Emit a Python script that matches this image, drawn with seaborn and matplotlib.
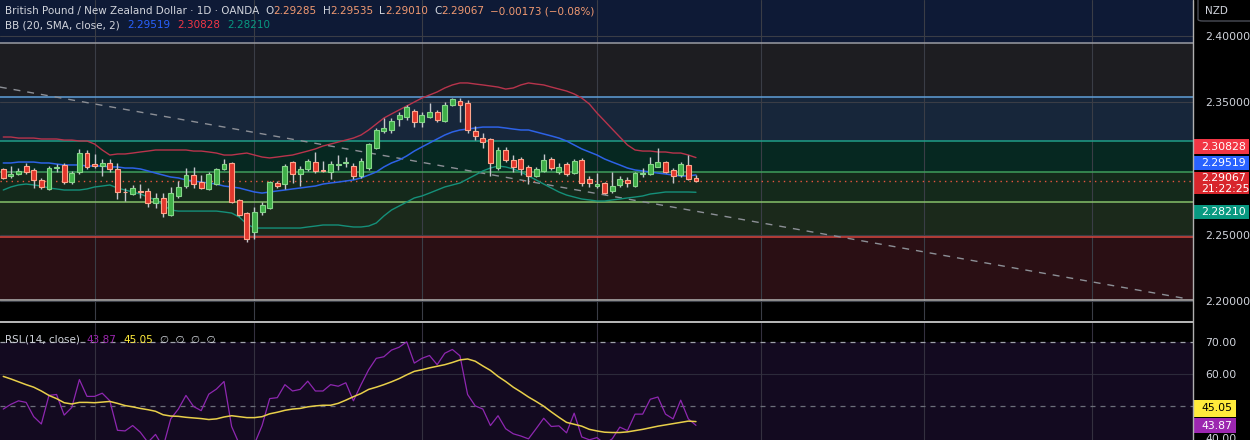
import matplotlib
matplotlib.use("Agg")
import numpy as np
import pandas as pd
import matplotlib.pyplot as plt
from matplotlib.patches import Rectangle, FancyBboxPatch
import seaborn as sns

W, H = 1250, 440

# GBP/NZD daily candles
open_ = [2.2997, 2.2944, 2.2959, 2.3019, 2.2989, 2.2914, 2.2846, 2.3004, 2.3027, 2.2898,
         2.2974, 2.3117, 2.3034, 2.3019, 2.3042, 2.2997, 2.2823, 2.2808, 2.2831, 2.2831,
         2.2740, 2.2778, 2.2649, 2.2793, 2.2868, 2.2951, 2.2898, 2.2846, 2.2883, 2.2997,
         2.3042, 2.2763, 2.2664, 2.2521, 2.2672, 2.2702, 2.2891, 2.2883, 2.3049, 2.2959,
         2.2997, 2.3049, 2.2989, 2.2974, 2.3027, 2.3042, 2.3019, 2.2944, 2.3004, 2.3155,
         2.3283, 2.3291, 2.3374, 2.3389, 2.3434, 2.3351, 2.3389, 2.3427, 2.3359, 2.3480,
         2.3510, 2.3495, 2.3283, 2.3230, 2.3223, 2.3004, 2.3140, 2.3064, 2.3072, 2.3012,
         2.2944, 2.2982, 2.3072, 2.2974, 2.3034, 2.2966, 2.3064, 2.2921, 2.2868, 2.2891,
         2.2831, 2.2876, 2.2914, 2.2868, 2.2959, 2.2959, 2.3012, 2.3049, 2.2989, 2.2951,
         2.3027, 2.29285]
high = [2.3004, 2.3019, 2.3004, 2.3042, 2.3004, 2.2929, 2.3019, 2.3034, 2.3042, 2.2982,
        2.3148, 2.3140, 2.3110, 2.3072, 2.3072, 2.3042, 2.2853, 2.2876, 2.2883, 2.2853,
        2.2815, 2.2815, 2.2861, 2.2906, 2.3004, 2.3012, 2.2951, 2.2974, 2.3004, 2.3072,
        2.3049, 2.2770, 2.2672, 2.2710, 2.2747, 2.2906, 2.2906, 2.3034, 2.3057, 2.3019,
        2.3072, 2.3125, 2.3057, 2.3057, 2.3102, 2.3087, 2.3042, 2.3080, 2.3193, 2.3306,
        2.3381, 2.3381, 2.3427, 2.3480, 2.3449, 2.3427, 2.3495, 2.3442, 2.3502, 2.3532,
        2.3532, 2.3517, 2.3321, 2.3268, 2.3230, 2.3163, 2.3163, 2.3102, 2.3087, 2.3027,
        2.3012, 2.3110, 2.3087, 2.3042, 2.3049, 2.3072, 2.3080, 2.2944, 2.2966, 2.2898,
        2.2974, 2.2944, 2.2936, 2.2974, 2.3004, 2.3087, 2.3155, 2.3057, 2.3004, 2.3049,
        2.3102, 2.29535]
low = [2.2921, 2.2929, 2.2951, 2.2959, 2.2853, 2.2846, 2.2838, 2.2974, 2.2883, 2.2883,
       2.2959, 2.2997, 2.3004, 2.2944, 2.2974, 2.2770, 2.2755, 2.2800, 2.2778, 2.2710,
       2.2702, 2.2634, 2.2642, 2.2778, 2.2853, 2.2853, 2.2846, 2.2838, 2.2876, 2.2989,
       2.2740, 2.2642, 2.2446, 2.2468, 2.2649, 2.2695, 2.2853, 2.2846, 2.2891, 2.2868,
       2.2982, 2.2966, 2.2974, 2.2921, 2.2989, 2.3012, 2.2921, 2.2929, 2.2989, 2.3148,
       2.3268, 2.3268, 2.3321, 2.3366, 2.3313, 2.3313, 2.3381, 2.3351, 2.3351, 2.3472,
       2.3351, 2.3268, 2.3215, 2.3155, 2.2944, 2.2989, 2.3049, 2.2974, 2.2951, 2.2883,
       2.2936, 2.2974, 2.2989, 2.2959, 2.2944, 2.2959, 2.2868, 2.2861, 2.2853, 2.2808,
       2.2815, 2.2861, 2.2861, 2.2861, 2.2936, 2.2951, 2.3008, 2.2966, 2.2891, 2.2936,
       2.2914, 2.29010]
close = [2.2929, 2.2959, 2.2982, 2.2974, 2.2914, 2.2861, 2.3004, 2.3012, 2.2898, 2.2966,
         2.3117, 2.3012, 2.3019, 2.3042, 2.2997, 2.2823, 2.2820, 2.2853, 2.2826, 2.2740,
         2.2778, 2.2664, 2.2815, 2.2861, 2.2951, 2.2883, 2.2853, 2.2959, 2.2997, 2.3034,
         2.2747, 2.2649, 2.2468, 2.2672, 2.2725, 2.2898, 2.2868, 2.3019, 2.2959, 2.2997,
         2.3057, 2.2982, 2.2985, 2.3034, 2.3031, 2.3046, 2.2944, 2.3057, 2.3185, 2.3291,
         2.3306, 2.3359, 2.3404, 2.3465, 2.3351, 2.3404, 2.3427, 2.3366, 2.3480, 2.3525,
         2.3480, 2.3291, 2.3246, 2.3200, 2.3042, 2.3140, 2.3064, 2.3012, 2.2997, 2.2944,
         2.2997, 2.3064, 2.3004, 2.3012, 2.2959, 2.3057, 2.2891, 2.2891, 2.2883, 2.2815,
         2.2868, 2.2921, 2.2891, 2.2966, 2.2963, 2.3034, 2.3049, 2.2974, 2.2944, 2.3034,
         2.29240, 2.29067]

# Bollinger Bands (20, SMA, close, 2)
bb_upper = [2.3238, 2.3238, 2.3230, 2.3230, 2.3230, 2.3223, 2.3223, 2.3223, 2.3215, 2.3215,
            2.3208, 2.3208, 2.3185, 2.3140, 2.3102, 2.3110, 2.3110, 2.3117, 2.3125, 2.3132,
            2.3140, 2.3140, 2.3140, 2.3140, 2.3140, 2.3132, 2.3132, 2.3125, 2.3117, 2.3102,
            2.3102, 2.3110, 2.3117, 2.3102, 2.3087, 2.3080, 2.3087, 2.3095, 2.3102, 2.3117,
            2.3132, 2.3148, 2.3170, 2.3185, 2.3200, 2.3215, 2.3230, 2.3253, 2.3291, 2.3336,
            2.3381, 2.3412, 2.3442, 2.3472, 2.3502, 2.3532, 2.3555, 2.3578, 2.3608, 2.3631,
            2.3646, 2.3646, 2.3638, 2.3631, 2.3623, 2.3615, 2.3600, 2.3608, 2.3631, 2.3646,
            2.3638, 2.3631, 2.3615, 2.3600, 2.3585, 2.3563, 2.3532, 2.3487, 2.3419, 2.3359,
            2.3298, 2.3238, 2.3178, 2.3140, 2.3132, 2.3132, 2.3125, 2.3125, 2.3117, 2.3117,
            2.3102, 2.30828]
bb_mid = [2.3042, 2.3042, 2.3049, 2.3049, 2.3049, 2.3042, 2.3042, 2.3034, 2.3027, 2.3027,
          2.3027, 2.3019, 2.3019, 2.3019, 2.3012, 2.3012, 2.3004, 2.3004, 2.2997, 2.2982,
          2.2966, 2.2951, 2.2936, 2.2929, 2.2914, 2.2906, 2.2898, 2.2891, 2.2883, 2.2868,
          2.2861, 2.2853, 2.2838, 2.2823, 2.2815, 2.2823, 2.2831, 2.2838, 2.2846, 2.2853,
          2.2861, 2.2868, 2.2883, 2.2891, 2.2898, 2.2906, 2.2914, 2.2929, 2.2951, 2.2974,
          2.3012, 2.3042, 2.3064, 2.3095, 2.3132, 2.3163, 2.3193, 2.3223, 2.3253, 2.3276,
          2.3291, 2.3298, 2.3306, 2.3313, 2.3313, 2.3313, 2.3306, 2.3298, 2.3291, 2.3291,
          2.3276, 2.3261, 2.3246, 2.3230, 2.3208, 2.3178, 2.3148, 2.3125, 2.3102, 2.3072,
          2.3049, 2.3027, 2.3004, 2.2989, 2.2982, 2.2974, 2.2966, 2.2959, 2.2951, 2.2944,
          2.2944, 2.29519]
bb_lower = [2.2838, 2.2861, 2.2876, 2.2883, 2.2876, 2.2868, 2.2853, 2.2846, 2.2838, 2.2838,
            2.2838, 2.2846, 2.2861, 2.2868, 2.2876, 2.2853, 2.2838, 2.2823, 2.2808, 2.2785,
            2.2763, 2.2725, 2.2687, 2.2679, 2.2679, 2.2679, 2.2679, 2.2679, 2.2679, 2.2672,
            2.2664, 2.2634, 2.2581, 2.2551, 2.2551, 2.2551, 2.2551, 2.2551, 2.2551, 2.2551,
            2.2559, 2.2566, 2.2574, 2.2574, 2.2574, 2.2566, 2.2559, 2.2559, 2.2566, 2.2589,
            2.2642, 2.2687, 2.2717, 2.2747, 2.2778, 2.2793, 2.2815, 2.2838, 2.2861, 2.2876,
            2.2891, 2.2921, 2.2951, 2.2982, 2.3004, 2.3019, 2.3012, 2.2997, 2.2974, 2.2944,
            2.2914, 2.2883, 2.2853, 2.2823, 2.2800, 2.2785, 2.2770, 2.2763, 2.2755, 2.2755,
            2.2763, 2.2770, 2.2778, 2.2785, 2.2793, 2.2808, 2.2815, 2.2823, 2.2823, 2.2823,
            2.2823, 2.28210]

# RSI (14, close) and its moving average
rsi = [49.0, 50.5, 51.6, 51.1, 46.6, 44.3, 53.3, 53.6, 47.1, 49.5,
       58.3, 53.0, 53.0, 54.0, 51.6, 42.3, 42.1, 43.8, 41.7, 38.5,
       41.0, 37.0, 45.9, 49.0, 53.3, 49.8, 48.5, 53.7, 55.3, 57.7,
       43.5, 38.0, 33.0, 38.0, 43.8, 52.3, 52.6, 56.7, 54.7, 55.2,
       57.8, 54.7, 54.7, 56.7, 56.2, 57.3, 51.6, 56.7, 61.4, 65.0,
       65.5, 67.6, 68.5, 70.2, 63.5, 65.0, 65.9, 63.0, 66.6, 67.8,
       65.8, 53.6, 50.0, 49.0, 43.8, 46.9, 42.8, 41.2, 40.5, 39.6,
       42.8, 46.1, 43.5, 43.7, 41.5, 47.7, 40.2, 39.3, 40.0, 38.0,
       39.6, 43.3, 42.2, 47.4, 47.4, 52.1, 52.8, 47.4, 45.9, 51.8,
       45.9, 43.87]
rsi_ma = [59.3, 58.5, 57.6, 56.7, 55.9, 54.7, 53.3, 52.3, 51.0, 50.6,
          51.1, 51.1, 51.0, 51.2, 51.4, 50.8, 50.1, 49.7, 49.2, 48.8,
          48.3, 47.2, 46.8, 46.7, 46.4, 46.2, 46.0, 45.7, 45.9, 46.5,
          46.9, 46.6, 46.3, 46.3, 46.6, 47.5, 48.0, 48.6, 49.0, 49.2,
          49.7, 50.0, 50.2, 50.2, 50.8, 51.8, 52.9, 53.9, 55.2, 55.9,
          56.7, 57.6, 58.6, 59.8, 60.9, 61.4, 62.0, 62.5, 63.0, 63.7,
          64.5, 64.8, 64.1, 62.6, 61.2, 59.3, 57.7, 55.9, 54.4, 52.8,
          51.4, 49.9, 48.1, 46.4, 44.8, 44.2, 43.6, 42.6, 42.1, 41.7,
          41.6, 41.6, 41.8, 42.2, 42.6, 43.1, 43.6, 44.0, 44.4, 44.8,
          45.2, 45.05]

# drawn horizontal levels and the zones between them
levels = [2.3947, 2.3540, 2.3208, 2.2974, 2.2747, 2.2483, 2.2008]
level_colors = ["#9a9ca3", "#5f9fd8", "#1f9e88", "#3f9d5c", "#86c06a", "#d9453f", "#b4b4b4"]
zone_colors = ["#0e1a36", "#1d1d21", "#17263a", "#062821", "#14291b", "#1b291b", "#2a0f14", "#000000"]

# dashed trend line anchors (bar index, price)
trend_idx = [-0.45, 155.7]
trend_px = [2.3615, 2.2015]

price_ticks = [2.20, 2.25, 2.35, 2.40]
rsi_ticks = [40, 60, 70]
month_idx = [12, 33, 55, 78, 99.5, 121, 143]

df = pd.DataFrame({"open": open_, "high": high, "low": low, "close": close,
                   "upper": bb_upper, "mid": bb_mid, "lower": bb_lower,
                   "rsi": rsi, "rsi_ma": rsi_ma})
df["i"] = np.arange(len(df))
up = df["close"] >= df["open"]

sns.set_theme(style="dark")
plt.rcParams["font.family"] = ["DejaVu Sans"]
TXT = "#d1d4dc"

fig = plt.figure(figsize=(W / 100, H / 100), dpi=100, facecolor="black")


def fx(x):
    return x / W


def fy(y):
    return 1 - y / H


ax = fig.add_axes([0, fy(320), fx(1193), 320 / H])
ax_r = fig.add_axes([0, 0, fx(1193), (H - 323) / H])
y_lo, y_hi = 2.1857, 2.4272
x_lim = (-0.43, 156.3)

for a in (ax, ax_r):
    a.set_facecolor("black")
    a.grid(False)
    for s in a.spines.values():
        s.set_visible(False)
    a.set_xlim(*x_lim)
    a.set_xticks([])

# zones
edges = [y_hi] + levels + [y_lo]
for k, c in enumerate(zone_colors):
    ax.axhspan(edges[k + 1], edges[k], color=c, zorder=0, lw=0)
for t in price_ticks:
    ax.axhline(t, color="#3a3d46", lw=0.8, zorder=0.5)
for m in month_idx:
    ax.axvline(m, color="#3a3d46", lw=0.8, zorder=0.5)
for lv, c in zip(levels, level_colors):
    ax.axhline(lv, color=c, lw=1.1, zorder=1)

ax.plot(trend_idx, trend_px, color="#8c8f96", lw=1, ls=(0, (5, 5)), zorder=1.5)
ax.axhline(close[-1], color="#e8553f", lw=1, ls=(0, (1, 3)), zorder=1.5)

# bollinger bands
sns.lineplot(data=df, x="i", y="upper", ax=ax, color="#b8344c", lw=1, zorder=2, legend=False)
sns.lineplot(data=df, x="i", y="mid", ax=ax, color="#2d62e6", lw=1.1, zorder=2, legend=False)
sns.lineplot(data=df, x="i", y="lower", ax=ax, color="#15907a", lw=1, zorder=2, legend=False)

# candles
ax.vlines(df["i"], df["low"], df["high"], color="#c4c6cc", lw=1, zorder=3)
body_lo = np.minimum(df["open"], df["close"])
body_h = np.maximum(np.abs(df["close"] - df["open"]), 0.00025)
ax.bar(df["i"][up], body_h[up], bottom=body_lo[up], width=0.64,
       color="#3fae48", edgecolor="#86d68a", lw=0.8, zorder=4)
ax.bar(df["i"][~up], body_h[~up], bottom=body_lo[~up], width=0.64,
       color="#e0372c", edgecolor="#ffa58c", lw=0.8, zorder=4)

ax.set_ylim(y_lo, y_hi)
ax.yaxis.tick_right()
ax.set_yticks(price_ticks)
ax.set_yticklabels([f"{t:.5f}" for t in price_ticks])
ax.tick_params(axis="y", length=0, pad=9, labelsize=7.8, labelcolor=TXT)
ax.set_xlabel("")
ax.set_ylabel("")

# RSI pane
ax_r.axhspan(30, 70, color="#130a20", zorder=0, lw=0)
ax_r.axhline(60, color="#2c2a3a", lw=0.8, zorder=0.5)
for m in month_idx:
    ax_r.axvline(m, color="#34303f", lw=0.8, zorder=0.5)
ax_r.axhline(70, color="#a0a3ab", lw=0.9, ls=(0, (4, 4)), zorder=1)
ax_r.axhline(50, color="#6c6f7a", lw=0.9, ls=(0, (4, 4)), zorder=1)
sns.lineplot(data=df, x="i", y="rsi", ax=ax_r, color="#8e27b0", lw=0.9, zorder=2, legend=False)
sns.lineplot(data=df, x="i", y="rsi_ma", ax=ax_r, color="#e8cf4a", lw=1.1, zorder=3, legend=False)
ax_r.set_ylim(39.24, 76.15)
ax_r.yaxis.tick_right()
ax_r.set_yticks(rsi_ticks)
ax_r.set_yticklabels([f"{t:.2f}" for t in rsi_ticks])
ax_r.tick_params(axis="y", length=0, pad=9, labelsize=7.8, labelcolor=TXT)
ax_r.set_xlabel("")
ax_r.set_ylabel("")

# pane separator and price-scale border
fig.add_artist(plt.Line2D([0, fx(1193)], [fy(322), fy(322)], color="#c8c8c8", lw=1.3))
fig.add_artist(plt.Line2D([fx(1193), fx(1193)], [0, 1], color="#b0b0b0", lw=1))

# currency tag
fig.add_artist(FancyBboxPatch((fx(1198), fy(21)), fx(60), 30 / H, transform=fig.transFigure,
                              boxstyle="round,pad=0,rounding_size=0.004",
                              facecolor="black", edgecolor="#4a4d57", lw=1))
fig.text(fx(1205), fy(11), "NZD", color=TXT, fontsize=7.5, va="center", ha="left")


def tag(y0, y1, lines, face, fg="white", x1=1249):
    fig.add_artist(Rectangle((fx(1194), fy(y1)), fx(x1 - 1194), (y1 - y0) / H,
                             transform=fig.transFigure, facecolor=face, lw=0))
    n = len(lines)
    for k, s in enumerate(lines):
        yc = y0 + (y1 - y0) * (k + 0.5) / n
        fig.text(fx(1201), fy(yc), s, color=fg, fontsize=7.8, va="center", ha="left")


tag(139, 154, [f"{bb_upper[-1]:.5f}"], "#f23645")
tag(156.5, 170.5, [f"{bb_mid[-1]:.5f}"], "#2962ff")
tag(172.5, 194.5, [f"{close[-1]:.5f}", "21:22:25"], "#d8262c")
tag(205, 219, [f"{bb_lower[-1]:.5f}"], "#089981")
tag(400, 416.5, [f"{rsi_ma[-1]:.2f}"], "#ffeb3b", fg="black", x1=1236)
tag(418, 433, [f"{rsi[-1]:.2f}"], "#9c27b0", x1=1236)

renderer = fig.canvas.get_renderer()


def text_run(x, y, pieces, size=7.5):
    for s, c, gap in pieces:
        t = fig.text(fx(x), fy(y), s, color=c, fontsize=size, va="center", ha="left")
        x += t.get_window_extent(renderer=renderer).width + gap


val = "#f29a72"
chg = close[-1] - close[-2]
text_run(5, 11, [("British Pound / New Zealand Dollar · 1D · OANDA", TXT, 6),
                 ("O", TXT, 0), (f"{open_[-1]:.5f}", val, 6),
                 ("H", TXT, 0), (f"{high[-1]:.5f}", val, 6),
                 ("L", TXT, 0), (f"{low[-1]:.5f}", val, 6),
                 ("C", TXT, 0), (f"{close[-1]:.5f}", val, 5),
                 (f"\u2212{abs(chg):.5f} (\u2212{abs(chg) / close[-2] * 100:.2f}%)", val, 0)])
text_run(5, 25, [("BB (20, SMA, close, 2)", TXT, 7),
                 (f"{bb_mid[-1]:.5f}", "#2962ff", 7),
                 (f"{bb_upper[-1]:.5f}", "#f23645", 7),
                 (f"{bb_lower[-1]:.5f}", "#089981", 0)])
text_run(5, 340, [("RSI (14, close)", TXT, 7),
                  (f"{rsi[-1]:.2f}", "#9c27b0", 7),
                  (f"{rsi_ma[-1]:.2f}", "#ffeb3b", 7),
                  ("\u2205  \u2205  \u2205  \u2205", TXT, 0)])

fig.savefig("out.png", dpi=100, facecolor="black")
